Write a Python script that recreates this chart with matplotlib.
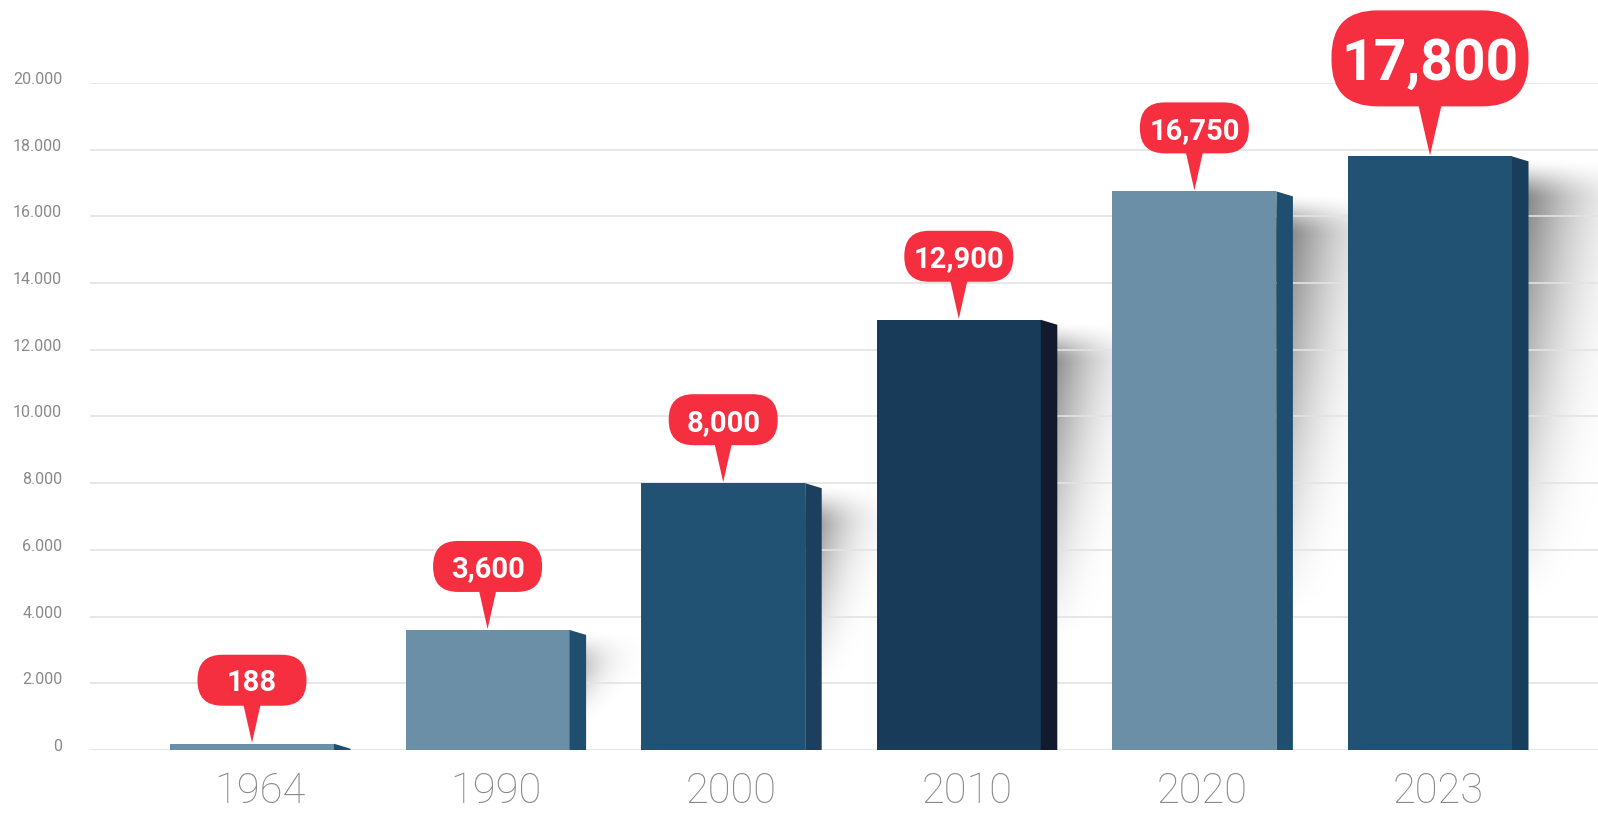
import numpy as np
import matplotlib
matplotlib.use("Agg")
import matplotlib.pyplot as plt
from matplotlib.patches import FancyBboxPatch, Polygon, Rectangle
from matplotlib.transforms import IdentityTransform, ScaledTranslation

years = ["1964", "1990", "2000", "2010", "2020", "2023"]
values = [188, 3600, 8000, 12900, 16750, 17800]
yticks = [0, 2000, 4000, 6000, 8000, 10000, 12000, 14000, 16000, 18000, 20000]

front_colors = ["#6a8fa6", "#6a8fa6", "#215273", "#173b59", "#6a8fa6", "#215273"]
side_colors = ["#1f4e6e", "#1f4e6e", "#1b3f5c", "#121a2e", "#1f4e6e", "#183e5b"]
red = "#f52f3f"
fam = ["Roboto", "DejaVu Sans"]

W, H, DPI = 1598, 815, 100
fig = plt.figure(figsize=(W / DPI, H / DPI), dpi=DPI)
ax = fig.add_axes([90 / W, 65 / H, 1508 / W, 667 / H])

step_px = 235.6
bw = 164 / step_px
side_d = 16.5 / step_px
px_y = 20000 / 667.0  # data units per pixel in y
x = np.arange(len(values))

# soft shadows to the right of the bars
for i, v in enumerate(values):
    hpx = v / px_y
    if hpx < 10:
        continue
    nx, ny = 120, 240
    dx = np.linspace(0, 130, nx)
    t = np.linspace(0, hpx, ny)
    L = 0.75 * hpx
    d = np.clip(t / L, 0, 1)
    rise = np.clip(t / 45.0, 0, 1)
    rise = rise * rise * (3 - 2 * rise)
    fy = rise * (1 - d) ** 0.9
    wscale = (30 + 0.06 * hpx) * (1 - 0.6 * d)
    alpha = 0.58 * fy[:, None] * np.exp(-(dx[None, :] / wscale[:, None]) ** 1.5)
    img = np.zeros((ny, nx, 4))
    img[..., 3] = alpha
    x0 = i + bw / 2
    ax.imshow(img, extent=(x0, x0 + 130 / step_px, 0, v), origin="upper",
              aspect="auto", interpolation="bilinear", zorder=0.3)

# bars with a side face
for i, v in enumerate(values):
    ax.add_patch(Rectangle((i - bw / 2, 0), bw, v, facecolor=front_colors[i],
                           edgecolor="none", zorder=2))
    xr = i + bw / 2
    ax.add_patch(Polygon([(xr, 0), (xr, v), (xr + side_d, max(v - 5 * px_y, 0)),
                          (xr + side_d, 0)], closed=True,
                         facecolor=side_colors[i], edgecolor="none", zorder=2))

ax.set_xlim(-(252 - 90) / step_px, -(252 - 90) / step_px + 1508 / step_px)
ax.set_ylim(0, 20000)

ax.set_yticks(yticks)
ax.set_yticklabels([f"{v:,}".replace(",", ".") for v in yticks],
                   family=fam, fontsize=11.5, color="#8a8a8a")
ax.set_xticks(x)
ax.set_xticklabels(years, family=fam, fontsize=30, fontweight="light", color="#888888")
ax.tick_params(axis="y", length=0, pad=20)
ax.tick_params(axis="x", length=0, pad=15)
for lab in ax.get_yticklabels():
    lab.set_transform(lab.get_transform() + ScaledTranslation(0, 5 / DPI, fig.dpi_scale_trans))
for lab in ax.get_xticklabels():
    lab.set_transform(lab.get_transform() + ScaledTranslation(8 / DPI, 0, fig.dpi_scale_trans))

ax.set_axisbelow(True)
ax.yaxis.grid(True, color="#e3e3e3", lw=1.2)
for s in ax.spines.values():
    s.set_visible(False)


# red callouts, drawn in pixel space
def callout(i, v, w, h, gap, r, bwid, fs):
    tx, ty = ax.transData.transform((i, v))
    yb = ty + gap
    ax.add_patch(Polygon([(tx - bwid / 2, yb + 3), (tx + bwid / 2, yb + 3), (tx, ty + 1)],
                         closed=True, facecolor=red, edgecolor="none",
                         transform=IdentityTransform(), clip_on=False, zorder=4))
    ax.add_patch(FancyBboxPatch((tx - w / 2, yb), w, h,
                                boxstyle=f"round,pad=0,rounding_size={r}",
                                facecolor=red, edgecolor="none",
                                transform=IdentityTransform(), clip_on=False, zorder=4))
    ax.text(tx, yb + h / 2, f"{v:,}", transform=IdentityTransform(), ha="center",
            va="center_baseline", color="white", fontsize=fs, fontweight="bold",
            family=fam, clip_on=False, zorder=5)


for i, v in enumerate(values):
    if i == len(values) - 1:
        callout(i, v, 197, 96, 50, 46, 24, 41)
    else:
        callout(i, v, 109, 51, 38, 25, 18, 21)

fig.savefig("out.png", dpi=DPI)
